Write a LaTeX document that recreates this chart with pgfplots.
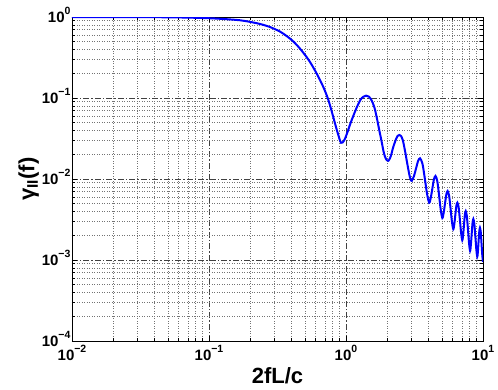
\documentclass[border=0pt]{standalone}
\usepackage{fontspec}
\setmainfont{Liberation Sans}
\usepackage{pgfplots}
\pgfplotsset{compat=1.18}

\newcommand{\dec}[1]{10\raisebox{8pt}{\fontsize{10.5}{12}\selectfont\bfseries #1}}

% gamma_II
\pgfplotstableread{
x y
0.01 0.9996
0.015 0.9992
0.02 0.9986
0.03 0.9969
0.04 0.9944
0.05 0.9913
0.07 0.983
0.1 0.966
0.13 0.943
0.168 0.912
0.2 0.87
0.236 0.82
0.28 0.75
0.33 0.66
0.37 0.58
0.412 0.50
0.46 0.41
0.516 0.32
0.56 0.26
0.611 0.20
0.66 0.155
0.703 0.122
0.74 0.097
0.78 0.072
0.83 0.049
0.87 0.037
0.92 0.028
0.97 0.030
1.02 0.037
1.07 0.047
1.13 0.060
1.2 0.077
1.27 0.094
1.33 0.103
1.40 0.107
1.47 0.104
1.54 0.093
1.61 0.077
1.675 0.058
1.75 0.040
1.82 0.029
1.89 0.021
1.96 0.0176
2.04 0.0168
2.12 0.019
2.2 0.024
2.3 0.030
2.38 0.034
2.45 0.035
2.52 0.034
2.6 0.030
2.7 0.022
2.8 0.0155
2.9 0.0113
2.96 0.0099
3.02 0.0095
3.13 0.0108
3.245 0.0135
3.36 0.0167
3.47 0.018
3.615 0.01545
3.76 0.0102
3.905 0.00656
4.05 0.0051
4.1625 0.00594
4.275 0.00774
4.3875 0.00995
4.5 0.0109
4.6375 0.00944
4.775 0.00637
4.9125 0.0042
5.05 0.0033
5.1675 0.00385
5.285 0.00503
5.4025 0.00647
5.52 0.0071
5.6575 0.00622
5.795 0.00436
5.9325 0.00298
6.07 0.0024
6.1775 0.00279
6.285 0.00363
6.3925 0.00467
6.5 0.0051
6.64 0.00449
6.78 0.00316
6.92 0.00217
7.06 0.00175
7.165 0.00206
7.27 0.00275
7.375 0.00362
7.48 0.0040
7.6225 0.00349
7.765 0.00241
7.9075 0.00163
8.05 0.0013
8.1625 0.00156
8.275 0.00213
8.3875 0.00287
8.5 0.0032
8.645 0.00281
8.79 0.00198
8.935 0.00136
9.08 0.0011
9.185 0.00129
9.29 0.00173
9.395 0.00226
9.5 0.0025
9.625 0.00223
9.75 0.00162
9.875 0.00116
10 0.00095
}\gammadata

\begin{document}
\begin{tikzpicture}
\begin{loglogaxis}[
    scale only axis,
    width=411pt,
    height=324pt,
    xmin=0.01, xmax=10,
    ymin=1e-4, ymax=1,
    xtick={0.01,0.1,1,10},
    xticklabels={\dec{−2},\dec{−1},\dec{0},\dec{1}},
    ytick={1e-4,1e-3,1e-2,1e-1,1},
    yticklabels={\dec{−4},\dec{−3},\dec{−2},\dec{−1},\dec{0}},
    minor xtick={0.02,0.03,0.04,0.05,0.06,0.07,0.08,0.09,0.2,0.3,0.4,0.5,0.6,0.7,0.8,0.9,2,3,4,5,6,7,8,9},
    minor ytick={2e-4,3e-4,4e-4,5e-4,6e-4,7e-4,8e-4,9e-4,2e-3,3e-3,4e-3,5e-3,6e-3,7e-3,8e-3,9e-3,0.02,0.03,0.04,0.05,0.06,0.07,0.08,0.09,0.2,0.3,0.4,0.5,0.6,0.7,0.8,0.9},
    grid=both,
    major grid style={black!75, line width=0.5pt, dash pattern=on 6pt off 2pt on 1.5pt off 2pt},
    minor grid style={black!55, line width=0.5pt, dotted},
    tick align=inside,
    major tick length=5pt,
    minor tick length=3pt,
    every tick/.style={black, line width=0.5pt},
    axis line style={black, line width=0.8pt},
    tick label style={font=\fontsize{15}{17}\selectfont\bfseries},
    xticklabel style={yshift=-1pt},
    yticklabel style={xshift=2pt, yshift=2.5pt},
    label style={font=\fontsize{22}{24}\selectfont\bfseries},
    xlabel={2fL/c},
    ylabel={γ\textsubscript{II}(f)},
    xlabel style={yshift=0pt},
    ylabel style={yshift=-4pt},
]
\addplot[blue, line width=2pt, smooth] table {\gammadata};
\end{loglogaxis}
\path (current axis.south west) ++(-72pt,-48pt) coordinate (bl);
\path (current axis.north east) ++(15pt,17pt) coordinate (tr);
\pgfresetboundingbox
\path[use as bounding box] (bl) rectangle (tr);
\end{tikzpicture}
\end{document}
